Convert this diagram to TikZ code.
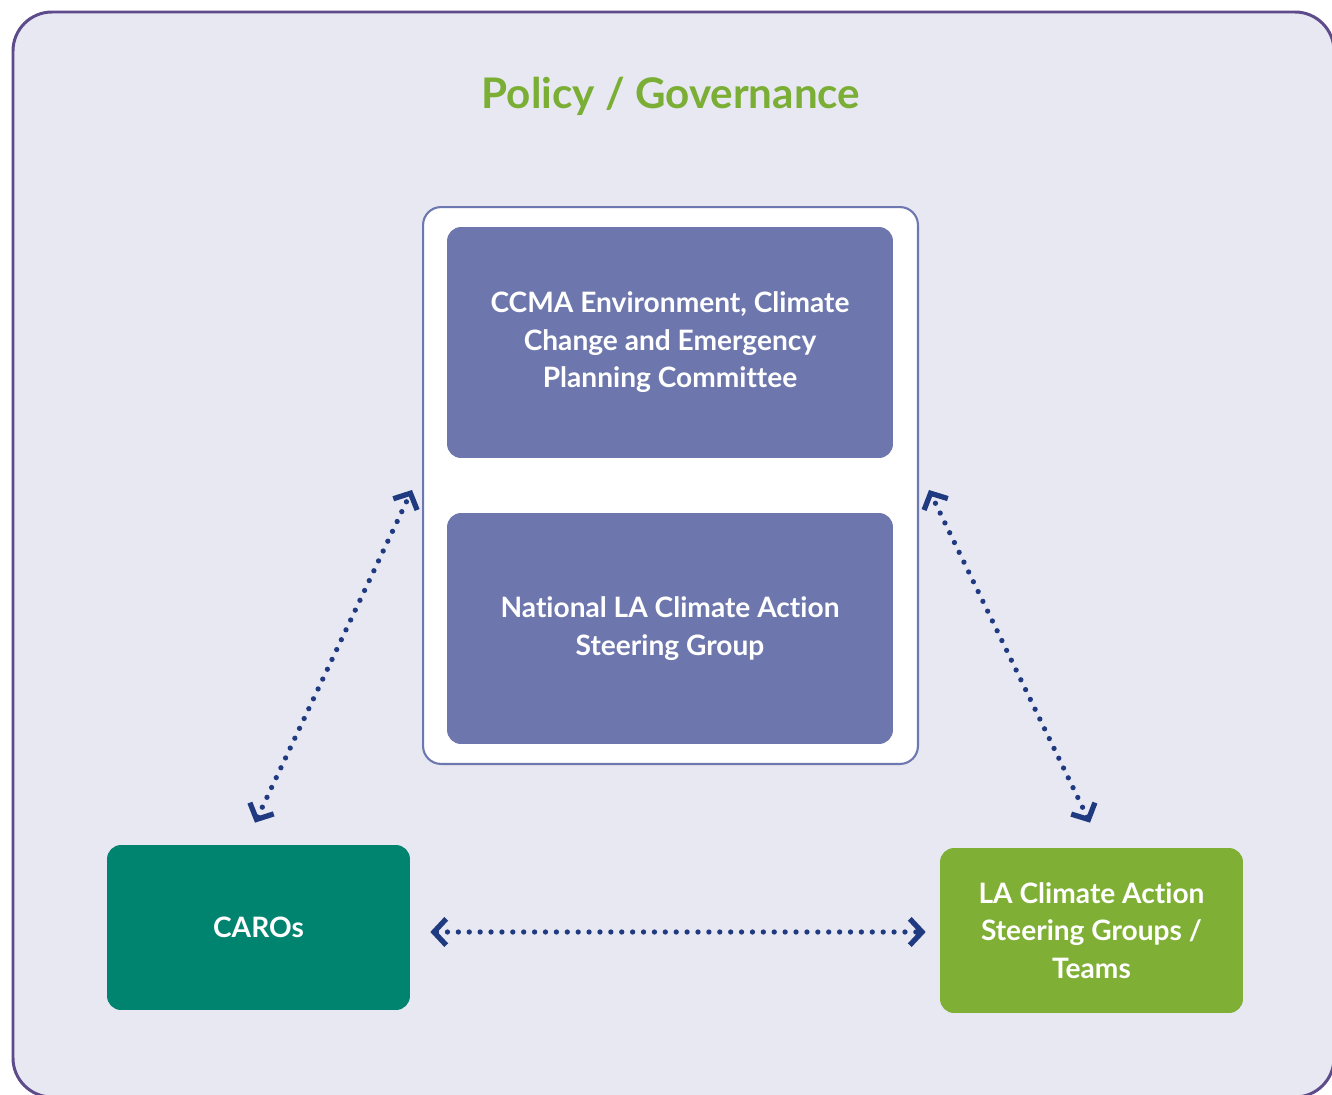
\documentclass[tikz,border=0pt]{standalone}
\usepackage{fontspec}
\setmainfont{Lato}[Ligatures=NoCommon]
\usetikzlibrary{arrows.meta}

\definecolor{framepurple}{HTML}{5E4B8B}
\definecolor{panelbg}{HTML}{E8E8F2}
\definecolor{boxblue}{HTML}{6E77AD}
\definecolor{boxedge}{HTML}{6E78B0}
\definecolor{carogreen}{HTML}{00836F}
\definecolor{lagreen}{HTML}{7FB035}
\definecolor{titlegreen}{HTML}{7AAE34}
\definecolor{arrownavy}{HTML}{1F3A80}

\begin{document}
\begin{tikzpicture}[x=0.02cm, y=-0.02cm,
  box/.style={rounded corners=0.28cm, text=white, inner sep=0pt, align=center,
    font=\bfseries\fontsize{16}{21.3}\selectfont},
  bigbox/.style={box, fill=boxblue, minimum width=8.92cm, minimum height=4.62cm},
  sidebox/.style={box, minimum width=6.06cm, minimum height=3.3cm},
  barb/.tip={Straight Barb[length=7pt, width=15pt, line width=3pt]},
  link/.style={arrownavy, line width=3pt, line cap=round,
    dash pattern=on 0pt off 6.2pt, barb-barb}]
\useasboundingbox (0,0) rectangle (1332,1095);
\clip (0,0) rectangle (1332,1095);

% outer frame
\draw [framepurple, line width=1.7pt, fill=panelbg, rounded corners=0.78cm] (13,12) rectangle (1334,1097);

\node [text=titlegreen, font=\bfseries\fontsize{24}{28}\selectfont] (title) at (671, 96) {Policy / Governance};

% national level
\node [draw=boxedge, line width=1.2pt, fill=white, rounded corners=0.36cm,
  minimum width=9.9cm, minimum height=11.14cm] (panel) at (670.5, 485.5) {};
\node [bigbox] (ccma) at (670, 342.5) {CCMA Environment, Climate\\Change and Emergency\\Planning Committee};
\node [bigbox] (steering) at (670, 628.5) {National LA Climate Action\\Steering Group};

% local level
\node [sidebox, fill=carogreen] (caros) at (258.5, 927.5) {CAROs};
\node [sidebox, fill=lagreen] (lateams) at (1091.5, 930.5) {LA Climate Action\\Steering Groups /\\Teams};

\draw [link] ([shift={(-3.5,-22)}]caros.north) -- ([shift={(-10,4.5)}]panel.west);
\draw [link] ([shift={(-1.5,-25)}]lateams.north) -- ([shift={(10,4.5)}]panel.east);
\draw [link] ([shift={(20,4.5)}]caros.east) -- ([shift={(-14,1.5)}]lateams.west);
\end{tikzpicture}
\end{document}
